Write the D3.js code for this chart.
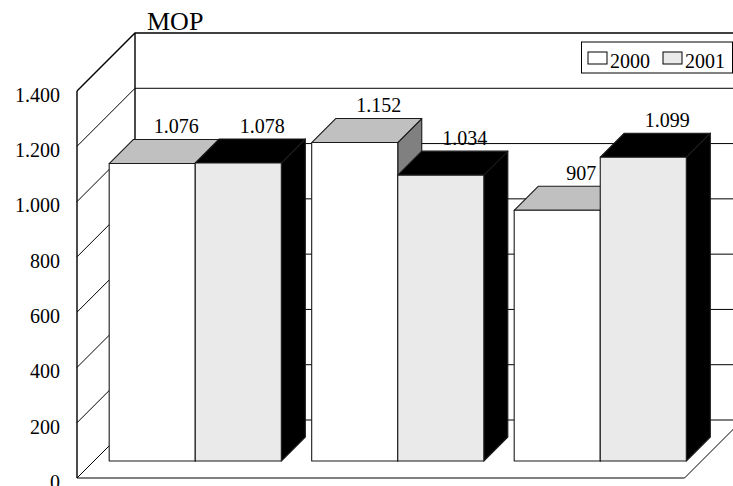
<!DOCTYPE html>
<html>
<head>
<meta charset="utf-8">
<script src="https://cdn.jsdelivr.net/npm/d3@7"></script>
<style>
  html, body { margin: 0; padding: 0; background: #fff; overflow: hidden; }
  svg { display: block; }
  text { font-family: "Liberation Serif", serif; fill: #000; }
</style>
</head>
<body>
<svg id="chart" width="733" height="486"></svg>
<script>
// Values
const groups = ['a', 'b', 'c'];
const years = ['2000', '2001'];
const values2000 = [1076, 1152, 907];
const values2001 = [1078, 1034, 1099];
const yTicks = [0, 200, 400, 600, 800, 1000, 1200, 1400];
const axisTitle = 'MOP';

const WIDTH = 733, HEIGHT = 486;
const FRONT_LEFT = 77, FRONT_BOTTOM = 478;
const FLOOR_W = 607.5, WALL_H = 387;
const DEPTH = 58;          // wall/floor depth
const BAR_OFFSET = 17;     // gap between front of floor and front of bars
const BAR_DEPTH = 24;

const svg = d3.select('#chart');

const fmt = d3.formatLocale({ decimal: ',', thousands: '.', grouping: [3], currency: ['', ''] }).format(',d');

// scales work in the front plane of the box
const y = d3.scaleLinear().domain([0, 1400]).range([FRONT_BOTTOM, FRONT_BOTTOM - WALL_H]);
const x0 = d3.scaleBand().domain(groups).range([FRONT_LEFT, FRONT_LEFT + FLOOR_W])
    .paddingInner(0.15).paddingOuter(0.075);
const x1 = d3.scaleBand().domain(years).range([0, x0.bandwidth()]);

const walls = svg.append('g').attr('fill', 'none').attr('stroke', '#000');

// back wall gridlines and their run along the side wall
yTicks.forEach(t => {
    const yb = y(t) - DEPTH;
    walls.append('path')
        .attr('d', `M${FRONT_LEFT},${y(t)}L${FRONT_LEFT + DEPTH},${yb}L${WIDTH + 10},${yb}`)
        .attr('stroke-width', t === 1400 ? 1.4 : 1);
});

// box outline
walls.append('path')
    .attr('stroke-width', 1.4)
    .attr('d', `M${FRONT_LEFT},${y(0)}V${y(1400)}M${FRONT_LEFT + DEPTH},${y(0) - DEPTH}V${y(1400) - DEPTH}`);
walls.append('path')
    .attr('stroke-width', 1)
    .attr('d', `M${FRONT_LEFT},${y(0)}H${FRONT_LEFT + FLOOR_W}L${FRONT_LEFT + FLOOR_W + DEPTH},${y(0) - DEPTH}`);

const styles = {
    '2000': { front: '#ffffff', top: '#c0c0c0', side: '#808080' },
    '2001': { front: '#eaeaea', top: '#000000', side: '#000000' }
};

const barData = groups.flatMap((g, i) => [
    { group: g, year: '2000', value: values2000[i] },
    { group: g, year: '2001', value: values2001[i] }
]);

const bars = svg.append('g').selectAll('g')
    .data(barData)
    .join('g')
    .attr('stroke', '#1a1a1a')
    .attr('stroke-width', 1.1)
    .attr('stroke-linejoin', 'round');

function barBox(d) {
    const left = x0(d.group) + x1(d.year) + BAR_OFFSET;
    return { l: left, r: left + x1.bandwidth(), t: y(d.value) - BAR_OFFSET, b: y(0) - BAR_OFFSET };
}

bars.append('path')
    .attr('fill', d => styles[d.year].side)
    .attr('d', d => {
        const b = barBox(d);
        return `M${b.r},${b.t}L${b.r + BAR_DEPTH},${b.t - BAR_DEPTH}V${b.b - BAR_DEPTH}L${b.r},${b.b}Z`;
    });
bars.append('path')
    .attr('fill', d => styles[d.year].top)
    .attr('d', d => {
        const b = barBox(d);
        return `M${b.l},${b.t}L${b.l + BAR_DEPTH},${b.t - BAR_DEPTH}H${b.r + BAR_DEPTH}L${b.r},${b.t}Z`;
    });
bars.append('rect')
    .attr('fill', d => styles[d.year].front)
    .attr('x', d => barBox(d).l)
    .attr('y', d => barBox(d).t)
    .attr('width', x1.bandwidth())
    .attr('height', d => barBox(d).b - barBox(d).t);

// value labels
svg.append('g').selectAll('text')
    .data(barData)
    .join('text')
    .attr('x', d => barBox(d).l + x1.bandwidth() / 2 + BAR_DEPTH)
    .attr('y', d => barBox(d).t - BAR_DEPTH - 6.5)
    .attr('text-anchor', 'middle')
    .attr('font-size', 20)
    .text(d => fmt(d.value));

// y axis
svg.append('g')
    .attr('transform', `translate(${FRONT_LEFT},4)`)
    .call(d3.axisLeft(y).tickValues(yTicks).tickFormat(fmt).tickSize(0).tickPadding(17))
    .call(g => g.select('.domain').remove())
    .call(g => g.selectAll('text').attr('font-size', 20).attr('font-family', '"Liberation Serif", serif').attr('fill', '#000'));

// axis title
svg.append('text')
    .attr('x', 147)
    .attr('y', 30)
    .attr('font-size', 26)
    .text(axisTitle);

// legend
const legendX = d3.scalePoint().domain(years).range([588, 663]);
svg.append('rect')
    .attr('x', 581.5).attr('y', 42)
    .attr('width', 151).attr('height', 31)
    .attr('fill', '#fff').attr('stroke', '#000').attr('stroke-width', 1);

const legend = svg.append('g').selectAll('g')
    .data(years)
    .join('g')
    .attr('transform', d => `translate(${legendX(d)},52)`);
legend.append('rect')
    .attr('width', 19).attr('height', 12)
    .attr('fill', d => styles[d].front)
    .attr('stroke', '#000').attr('stroke-width', 1);
legend.append('text')
    .attr('x', 22).attr('y', 16)
    .attr('font-size', 20)
    .text(d => d);
</script>
</body>
</html>
